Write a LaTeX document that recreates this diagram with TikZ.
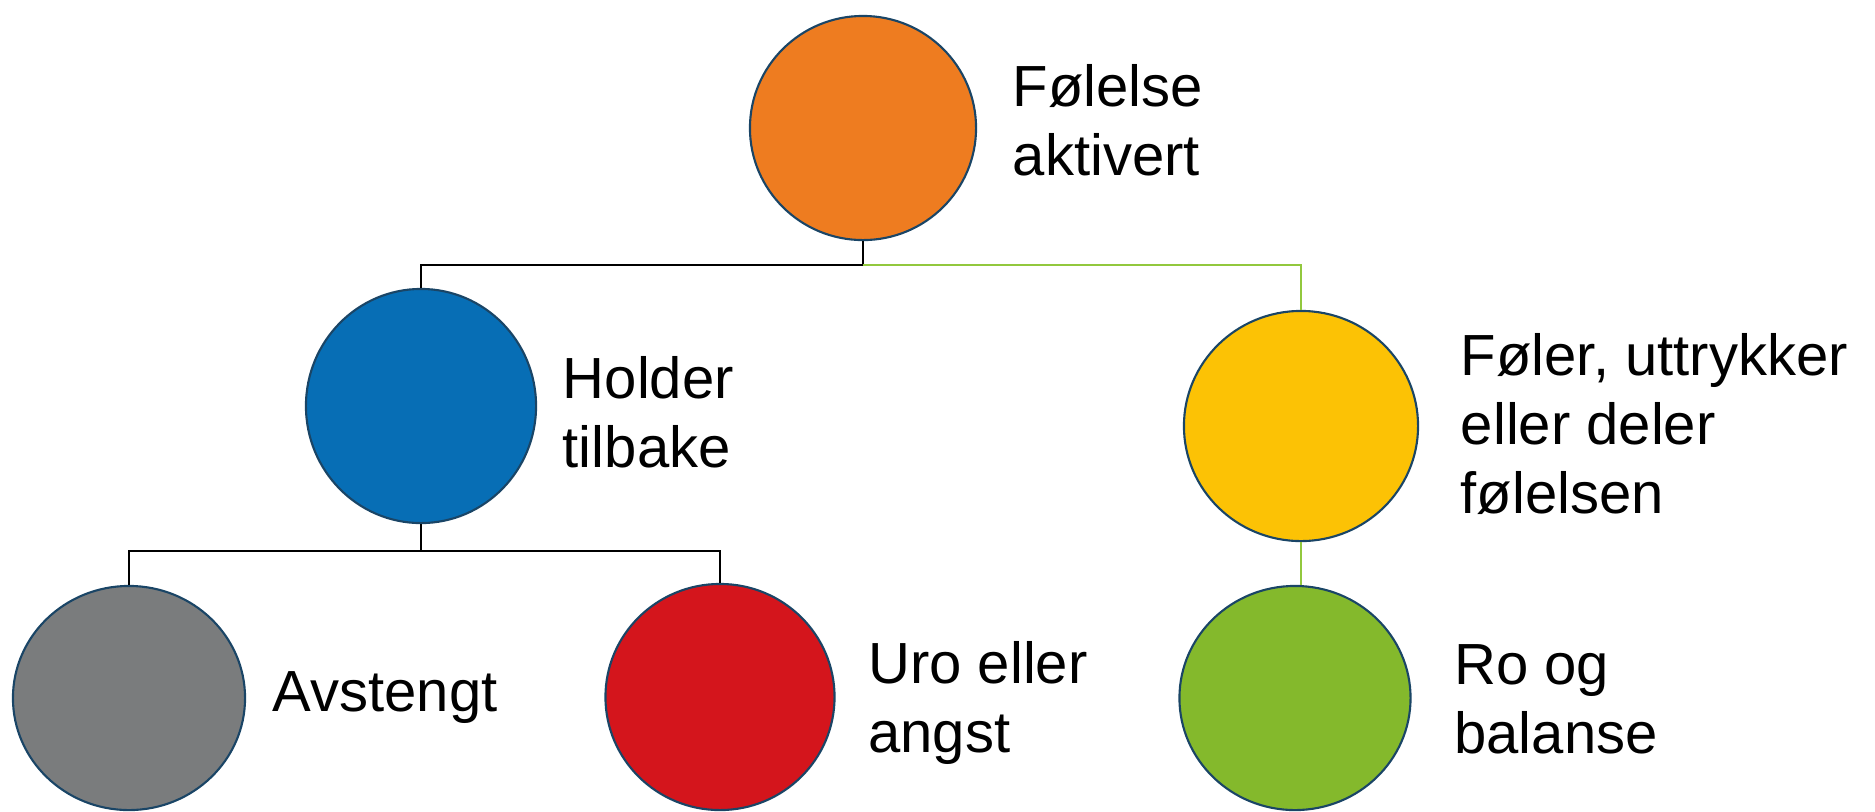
\documentclass[tikz,border=0pt]{standalone}
\usepackage{fontspec}
\setmainfont{Liberation Sans}
\usepackage{tikz}
\usetikzlibrary{shapes,arrows, positioning}
\definecolor{rim}{HTML}{1A4566}
\definecolor{cOrange}{HTML}{EE7C20}
\definecolor{cBlue}{HTML}{076EB5}
\definecolor{cGray}{HTML}{7A7C7D}
\definecolor{cRed}{HTML}{D4151C}
\definecolor{cYellow}{HTML}{FCC205}
\definecolor{cGreen}{HTML}{84B92C}
\definecolor{cLine}{HTML}{92C83E}
\tikzstyle{blob} = [ellipse, draw=rim, line width=0.6pt, inner sep=0pt]
\tikzstyle{lbl} = [align=left, inner sep=0pt, font=\fontsize{16.5}{19.6}\selectfont]
\tikzstyle{line} = [draw, black, line width=0.6pt]
\tikzstyle{gline} = [draw, cLine, line width=0.6pt]

\begin{document}
\begin{tikzpicture}[x=0.01cm, y=-0.01cm]
			\useasboundingbox (0,0) rectangle (1875,811);
			\node [blob, fill=cOrange, minimum width=2.26cm, minimum height=2.24cm] (fol) at (863, 128) {};
			\node [blob, fill=cBlue, minimum width=2.30cm, minimum height=2.34cm] (hold) at (421, 406) {};
			\node [blob, fill=cYellow, minimum width=2.34cm, minimum height=2.30cm] (foler) at (1301, 426) {};
			\node [blob, fill=cGray, minimum width=2.32cm, minimum height=2.24cm] (avst) at (129, 698) {};
			\node [blob, fill=cRed, minimum width=2.29cm, minimum height=2.26cm] (uro) at (720, 697) {};
			\node [blob, fill=cGreen, minimum width=2.31cm, minimum height=2.24cm] (ro) at (1295, 698) {};

			\node [lbl, right=0.35cm of fol, yshift=2.3pt] (tfol) {Følelse\\aktivert};
			\node [lbl, right=0.25cm of hold, yshift=-1.8pt] (thold) {Holder\\tilbake};
			\node [lbl, right=0.41cm of foler, yshift=0.6pt] (tfoler) {Føler, uttrykker\\eller deler\\følelsen};
			\node [lbl, right=0.26cm of avst] (tavst) {Avstengt};
			\node [lbl, right=0.32cm of uro, yshift=-1.8pt] (turo) {Uro eller\\angst};
			\node [lbl, right=0.42cm of ro, yshift=-0.5pt] (tro) {Ro og\\balanse};

			\coordinate (split1) at (863, 265);
			\coordinate (split2) at (421, 551);

			\path [line] (fol) -- (split1);
			\path [line] (split1) -| (hold);
			\path [gline] (split1) -| (foler);
			\path [line] (hold) -- (split2);
			\path [line] (split2) -| (avst);
			\path [line] (split2) -| (uro);
			\path [gline] (foler) -- (foler.south |- ro.north);
		\end{tikzpicture}
\end{document}
